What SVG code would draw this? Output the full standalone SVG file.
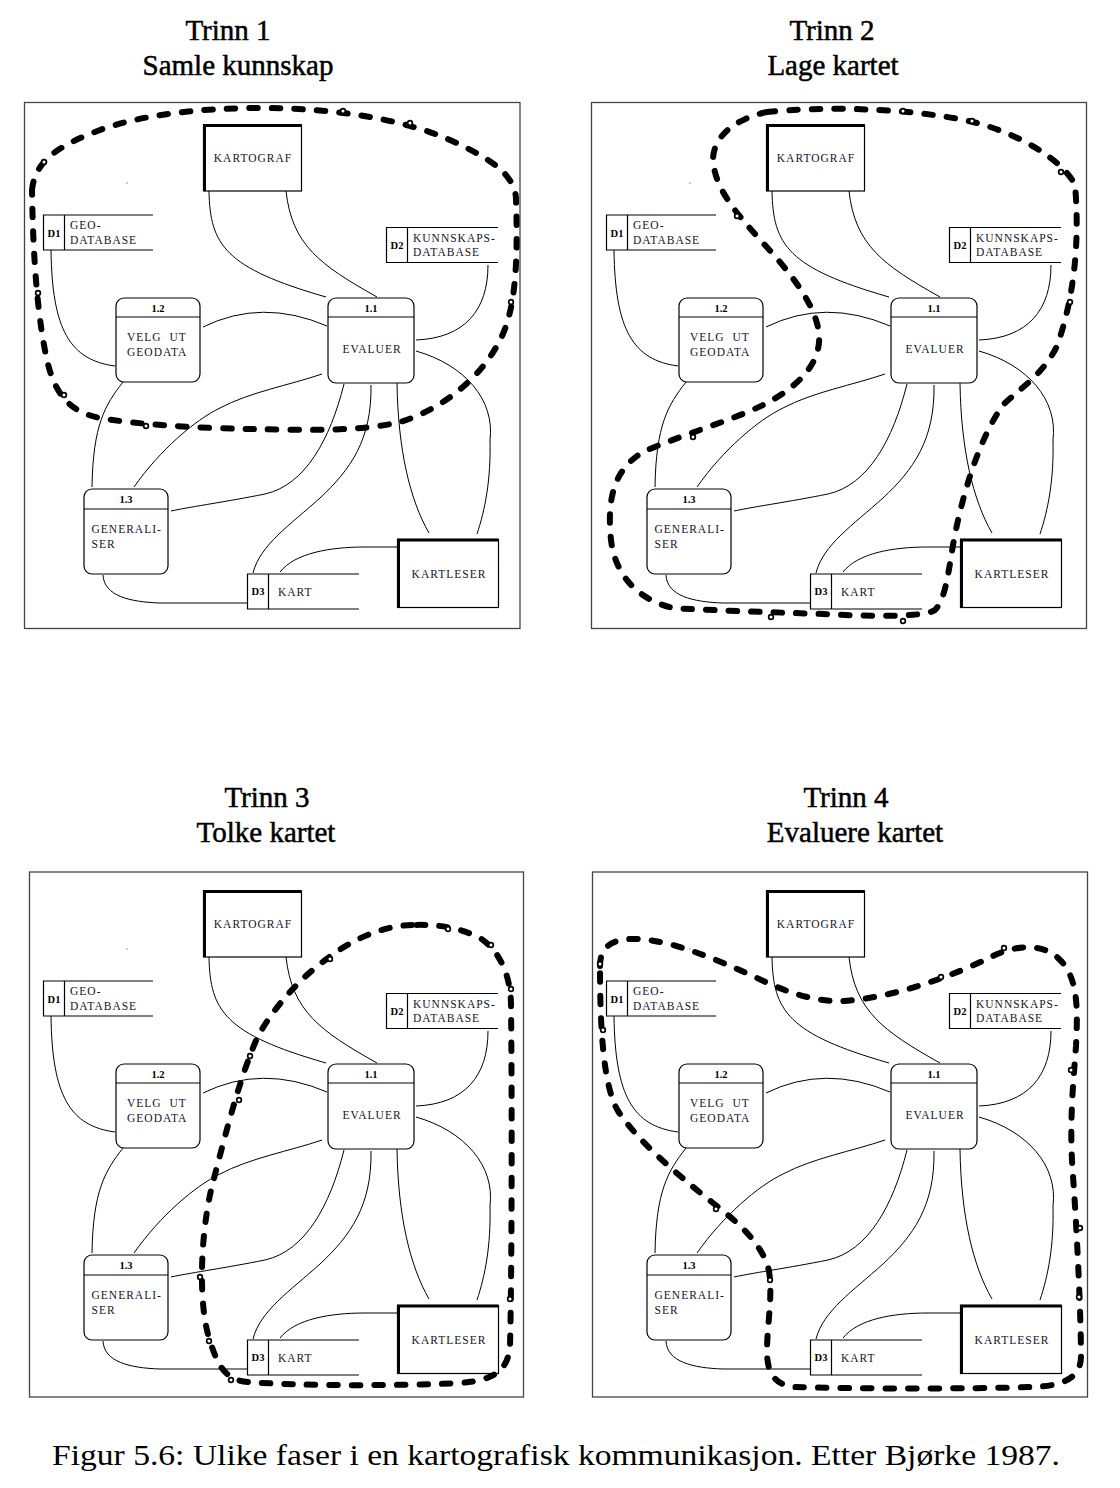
<svg xmlns="http://www.w3.org/2000/svg" width="1120" height="1488" viewBox="0 0 1120 1488">
<style>
.frame{fill:none;stroke:#444;stroke-width:1.3}
.ln{fill:none;stroke:#000;stroke-width:1}
.box{fill:#fff;stroke:#000;stroke-width:1.2}
.thick{fill:none;stroke:#000;stroke-width:3}
.store{fill:none;stroke:#000;stroke-width:1.2}
.sep{stroke:#000;stroke-width:1.2}
text{font-family:'Liberation Serif','Times New Roman',Times,serif}
.t{font-size:11.5px;letter-spacing:1px;fill:#141428}
.tb{font-size:10.5px;font-weight:bold;fill:#000;text-anchor:middle}
.mid{text-anchor:middle}
.bnd{fill:none;stroke:#000;stroke-width:6;stroke-dasharray:8.5 14;stroke-linecap:round}
.hb{fill:#000}
.hw{fill:#fff}
.title{font-size:29px;text-anchor:middle;fill:#000;stroke:#000;stroke-width:0.5}
.cap{font-size:29px;fill:#000}
.speck{fill:#888}
</style>

<g id="titles" font-family="Liberation Serif, Times New Roman, serif">
<text class="title" x="228" y="40">Trinn 1</text>
<text class="title" x="238" y="75">Samle kunnskap</text>
<text class="title" x="832" y="40">Trinn 2</text>
<text class="title" x="833" y="75">Lage kartet</text>
<text class="title" x="267" y="807">Trinn 3</text>
<text class="title" x="266" y="842">Tolke kartet</text>
<text class="title" x="846" y="807">Trinn 4</text>
<text class="title" x="855" y="842">Evaluere kartet</text>
</g>

<g id="frames">
<rect class="frame" x="24.5" y="102.5" width="495.5" height="526"/>
<rect class="frame" x="591.5" y="102.5" width="495" height="526"/>
<rect class="frame" x="29.5" y="872" width="494" height="525"/>
<rect class="frame" x="592.5" y="872" width="495" height="525"/>
</g>

<!-- PANEL 1 -->
<g id="panel1">
<g id="p1-connectors">
<path class="ln" d="M209,191 C210,245 225,268 326,297"/>
<path class="ln" d="M286,191 C292,245 320,265 377,297"/>
<path class="ln" d="M51,250 C52,330 70,360 115,366"/>
<path class="ln" d="M203,327 Q262,298 327,326"/>
<path class="ln" d="M488,265 C488,310 465,338 416,340"/>
<path class="ln" d="M416,351 C465,365 495,400 490,440 C491,480 485,510 477,534"/>
<path class="ln" d="M397,383 C398,450 410,500 429,533"/>
<path class="ln" d="M371,385 C372,440 350,470 320,498 C290,525 260,545 253,573"/>
<path class="ln" d="M344,384 C330,440 305,485 265,494 C225,502 195,506 171,511"/>
<path class="ln" d="M322,374 C290,385 250,392 220,408 C195,420 160,450 134,487"/>
<path class="ln" d="M123,382 C105,405 93,425 92,487"/>
<path class="ln" d="M103,575 C104,596 130,602 160,603 L247,603"/>
<path class="ln" d="M397,547 L365,547 C330,547 295,553 280,572"/>
</g>
<circle class="speck" cx="127" cy="183" r="0.8"/>
<g id="p1-kartograf"><rect class="box" x="203.5" y="125" width="98" height="66"/><path class="thick" d="M204.5,191 V125.5 H301.5"/><text class="t mid" x="253" y="162">KARTOGRAF</text></g>
<g id="p1-d1"><path class="store" d="M153,215 H43.5 V250 H153 M64.5,215 V250"/><text class="tb" x="54" y="237">D1</text><text class="t" x="70" y="229">GEO-</text><text class="t" x="70" y="244">DATABASE</text></g>
<g id="p1-d2"><path class="store" d="M498,227.5 H386.5 V262.5 H498 M407.5,227.5 V262.5"/><text class="tb" x="397" y="249">D2</text><text class="t" x="413" y="242">KUNNSKAPS-</text><text class="t" x="413" y="256">DATABASE</text></g>
<g id="p1-p12"><rect class="box" x="116" y="298" width="84" height="84" rx="8"/><line class="sep" x1="116" y1="317" x2="200" y2="317"/><text class="tb" x="158" y="312">1.2</text><text class="t" x="127" y="341" word-spacing="4">VELG UT</text><text class="t" x="127" y="356">GEODATA</text></g>
<g id="p1-p11"><rect class="box" x="328" y="298" width="86" height="85" rx="8"/><line class="sep" x1="328" y1="317" x2="414" y2="317"/><text class="tb" x="371" y="312">1.1</text><text class="t mid" x="372" y="353">EVALUER</text></g>
<g id="p1-p13"><rect class="box" x="84" y="489" width="84" height="85" rx="8"/><line class="sep" x1="84" y1="509" x2="168" y2="509"/><text class="tb" x="126" y="503">1.3</text><text class="t" x="91.5" y="533">GENERALI-</text><text class="t" x="91.5" y="548">SER</text></g>
<g id="p1-d3"><path class="store" d="M359,574 H247.5 V609 H359 M268.5,574 V609"/><text class="tb" x="258" y="595">D3</text><text class="t" x="278" y="596">KART</text></g>
<g id="p1-kartleser"><rect class="box" x="397.5" y="539.5" width="101" height="68"/><path class="thick" d="M398.5,607.5 V540 H498.5"/><text class="t mid" x="449" y="578">KARTLESER</text></g>
<path id="p1-boundary" class="bnd" d="M32,190 C35,160 60,145 100,130 C140,115 200,108 260,108 C330,108 400,118 450,140 C490,158 516,175 516,200 C518,260 516,310 500,340 C480,380 440,410 400,422 C360,432 300,430 250,429 C200,428 140,425 100,418 C70,412 55,395 47,360 C38,320 33,260 32,190 Z"/>
</g>

<!-- PANEL 2 -->
<g id="panel2" transform="translate(563,0)">
<g id="p2-connectors">
<path class="ln" d="M209,191 C210,245 225,268 326,297"/>
<path class="ln" d="M286,191 C292,245 320,265 377,297"/>
<path class="ln" d="M51,250 C52,330 70,360 115,366"/>
<path class="ln" d="M203,327 Q262,298 327,326"/>
<path class="ln" d="M488,265 C488,310 465,338 416,340"/>
<path class="ln" d="M416,351 C465,365 495,400 490,440 C491,480 485,510 477,534"/>
<path class="ln" d="M397,383 C398,450 410,500 429,533"/>
<path class="ln" d="M371,385 C372,440 350,470 320,498 C290,525 260,545 253,573"/>
<path class="ln" d="M344,384 C330,440 305,485 265,494 C225,502 195,506 171,511"/>
<path class="ln" d="M322,374 C290,385 250,392 220,408 C195,420 160,450 134,487"/>
<path class="ln" d="M123,382 C105,405 93,425 92,487"/>
<path class="ln" d="M103,575 C104,596 130,602 160,603 L247,603"/>
<path class="ln" d="M397,547 L365,547 C330,547 295,553 280,572"/>
</g>
<circle class="speck" cx="127" cy="183" r="0.8"/>
<g id="p2-kartograf"><rect class="box" x="203.5" y="125" width="98" height="66"/><path class="thick" d="M204.5,191 V125.5 H301.5"/><text class="t mid" x="253" y="162">KARTOGRAF</text></g>
<g id="p2-d1"><path class="store" d="M153,215 H43.5 V250 H153 M64.5,215 V250"/><text class="tb" x="54" y="237">D1</text><text class="t" x="70" y="229">GEO-</text><text class="t" x="70" y="244">DATABASE</text></g>
<g id="p2-d2"><path class="store" d="M498,227.5 H386.5 V262.5 H498 M407.5,227.5 V262.5"/><text class="tb" x="397" y="249">D2</text><text class="t" x="413" y="242">KUNNSKAPS-</text><text class="t" x="413" y="256">DATABASE</text></g>
<g id="p2-p12"><rect class="box" x="116" y="298" width="84" height="84" rx="8"/><line class="sep" x1="116" y1="317" x2="200" y2="317"/><text class="tb" x="158" y="312">1.2</text><text class="t" x="127" y="341" word-spacing="4">VELG UT</text><text class="t" x="127" y="356">GEODATA</text></g>
<g id="p2-p11"><rect class="box" x="328" y="298" width="86" height="85" rx="8"/><line class="sep" x1="328" y1="317" x2="414" y2="317"/><text class="tb" x="371" y="312">1.1</text><text class="t mid" x="372" y="353">EVALUER</text></g>
<g id="p2-p13"><rect class="box" x="84" y="489" width="84" height="85" rx="8"/><line class="sep" x1="84" y1="509" x2="168" y2="509"/><text class="tb" x="126" y="503">1.3</text><text class="t" x="91.5" y="533">GENERALI-</text><text class="t" x="91.5" y="548">SER</text></g>
<g id="p2-d3"><path class="store" d="M359,574 H247.5 V609 H359 M268.5,574 V609"/><text class="tb" x="258" y="595">D3</text><text class="t" x="278" y="596">KART</text></g>
<g id="p2-kartleser"><rect class="box" x="397.5" y="539.5" width="101" height="68"/><path class="thick" d="M398.5,607.5 V540 H498.5"/><text class="t mid" x="449" y="578">KARTLESER</text></g>
<path id="p2-boundary" class="bnd" d="M204,112 C260,106 350,108 410,122 C455,133 500,160 512,185 C516,230 514,290 494,346 C480,375 455,390 440,405 C415,440 398,500 390,545 C385,575 382,600 372,610 C360,618 300,616 260,614 C200,612 140,610 110,608 C75,600 52,575 48,540 C44,500 50,470 80,452 C110,438 170,420 200,405 C240,385 258,360 256,335 C254,305 225,270 200,243 C175,215 152,190 150,160 C150,135 175,118 204,112 Z"/>
</g>

<!-- PANEL 3 -->
<g id="panel3" transform="translate(0,766)">
<g id="p3-connectors">
<path class="ln" d="M209,191 C210,245 225,268 326,297"/>
<path class="ln" d="M286,191 C292,245 320,265 377,297"/>
<path class="ln" d="M51,250 C52,330 70,360 115,366"/>
<path class="ln" d="M203,327 Q262,298 327,326"/>
<path class="ln" d="M488,265 C488,310 465,338 416,340"/>
<path class="ln" d="M416,351 C465,365 495,400 490,440 C491,480 485,510 477,534"/>
<path class="ln" d="M397,383 C398,450 410,500 429,533"/>
<path class="ln" d="M371,385 C372,440 350,470 320,498 C290,525 260,545 253,573"/>
<path class="ln" d="M344,384 C330,440 305,485 265,494 C225,502 195,506 171,511"/>
<path class="ln" d="M322,374 C290,385 250,392 220,408 C195,420 160,450 134,487"/>
<path class="ln" d="M123,382 C105,405 93,425 92,487"/>
<path class="ln" d="M103,575 C104,596 130,602 160,603 L247,603"/>
<path class="ln" d="M397,547 L365,547 C330,547 295,553 280,572"/>
</g>
<circle class="speck" cx="127" cy="183" r="0.8"/>
<g id="p3-kartograf"><rect class="box" x="203.5" y="125" width="98" height="66"/><path class="thick" d="M204.5,191 V125.5 H301.5"/><text class="t mid" x="253" y="162">KARTOGRAF</text></g>
<g id="p3-d1"><path class="store" d="M153,215 H43.5 V250 H153 M64.5,215 V250"/><text class="tb" x="54" y="237">D1</text><text class="t" x="70" y="229">GEO-</text><text class="t" x="70" y="244">DATABASE</text></g>
<g id="p3-d2"><path class="store" d="M498,227.5 H386.5 V262.5 H498 M407.5,227.5 V262.5"/><text class="tb" x="397" y="249">D2</text><text class="t" x="413" y="242">KUNNSKAPS-</text><text class="t" x="413" y="256">DATABASE</text></g>
<g id="p3-p12"><rect class="box" x="116" y="298" width="84" height="84" rx="8"/><line class="sep" x1="116" y1="317" x2="200" y2="317"/><text class="tb" x="158" y="312">1.2</text><text class="t" x="127" y="341" word-spacing="4">VELG UT</text><text class="t" x="127" y="356">GEODATA</text></g>
<g id="p3-p11"><rect class="box" x="328" y="298" width="86" height="85" rx="8"/><line class="sep" x1="328" y1="317" x2="414" y2="317"/><text class="tb" x="371" y="312">1.1</text><text class="t mid" x="372" y="353">EVALUER</text></g>
<g id="p3-p13"><rect class="box" x="84" y="489" width="84" height="85" rx="8"/><line class="sep" x1="84" y1="509" x2="168" y2="509"/><text class="tb" x="126" y="503">1.3</text><text class="t" x="91.5" y="533">GENERALI-</text><text class="t" x="91.5" y="548">SER</text></g>
<g id="p3-d3"><path class="store" d="M359,574 H247.5 V609 H359 M268.5,574 V609"/><text class="tb" x="258" y="595">D3</text><text class="t" x="278" y="596">KART</text></g>
<g id="p3-kartleser"><rect class="box" x="397.5" y="539.5" width="101" height="68"/><path class="thick" d="M398.5,607.5 V540 H498.5"/><text class="t mid" x="449" y="578">KARTLESER</text></g>
<path id="p3-boundary" class="bnd" d="M412,159 C380,160 350,175 328,192 C300,212 275,240 258,270 C240,310 225,370 212,420 C200,470 198,540 210,575 C218,600 225,614 248,616 C300,620 400,620 460,617 C500,614 508,600 510,580 C512,500 512,320 511,240 C511,210 500,185 480,172 C460,162 440,158 412,159 Z"/>
</g>

<!-- PANEL 4 -->
<g id="panel4" transform="translate(563,766)">
<g id="p4-connectors">
<path class="ln" d="M209,191 C210,245 225,268 326,297"/>
<path class="ln" d="M286,191 C292,245 320,265 377,297"/>
<path class="ln" d="M51,250 C52,330 70,360 115,366"/>
<path class="ln" d="M203,327 Q262,298 327,326"/>
<path class="ln" d="M488,265 C488,310 465,338 416,340"/>
<path class="ln" d="M416,351 C465,365 495,400 490,440 C491,480 485,510 477,534"/>
<path class="ln" d="M397,383 C398,450 410,500 429,533"/>
<path class="ln" d="M371,385 C372,440 350,470 320,498 C290,525 260,545 253,573"/>
<path class="ln" d="M344,384 C330,440 305,485 265,494 C225,502 195,506 171,511"/>
<path class="ln" d="M322,374 C290,385 250,392 220,408 C195,420 160,450 134,487"/>
<path class="ln" d="M123,382 C105,405 93,425 92,487"/>
<path class="ln" d="M103,575 C104,596 130,602 160,603 L247,603"/>
<path class="ln" d="M397,547 L365,547 C330,547 295,553 280,572"/>
</g>
<circle class="speck" cx="127" cy="183" r="0.8"/>
<g id="p4-kartograf"><rect class="box" x="203.5" y="125" width="98" height="66"/><path class="thick" d="M204.5,191 V125.5 H301.5"/><text class="t mid" x="253" y="162">KARTOGRAF</text></g>
<g id="p4-d1"><path class="store" d="M153,215 H43.5 V250 H153 M64.5,215 V250"/><text class="tb" x="54" y="237">D1</text><text class="t" x="70" y="229">GEO-</text><text class="t" x="70" y="244">DATABASE</text></g>
<g id="p4-d2"><path class="store" d="M498,227.5 H386.5 V262.5 H498 M407.5,227.5 V262.5"/><text class="tb" x="397" y="249">D2</text><text class="t" x="413" y="242">KUNNSKAPS-</text><text class="t" x="413" y="256">DATABASE</text></g>
<g id="p4-p12"><rect class="box" x="116" y="298" width="84" height="84" rx="8"/><line class="sep" x1="116" y1="317" x2="200" y2="317"/><text class="tb" x="158" y="312">1.2</text><text class="t" x="127" y="341" word-spacing="4">VELG UT</text><text class="t" x="127" y="356">GEODATA</text></g>
<g id="p4-p11"><rect class="box" x="328" y="298" width="86" height="85" rx="8"/><line class="sep" x1="328" y1="317" x2="414" y2="317"/><text class="tb" x="371" y="312">1.1</text><text class="t mid" x="372" y="353">EVALUER</text></g>
<g id="p4-p13"><rect class="box" x="84" y="489" width="84" height="85" rx="8"/><line class="sep" x1="84" y1="509" x2="168" y2="509"/><text class="tb" x="126" y="503">1.3</text><text class="t" x="91.5" y="533">GENERALI-</text><text class="t" x="91.5" y="548">SER</text></g>
<g id="p4-d3"><path class="store" d="M359,574 H247.5 V609 H359 M268.5,574 V609"/><text class="tb" x="258" y="595">D3</text><text class="t" x="278" y="596">KART</text></g>
<g id="p4-kartleser"><rect class="box" x="397.5" y="539.5" width="101" height="68"/><path class="thick" d="M398.5,607.5 V540 H498.5"/><text class="t mid" x="449" y="578">KARTLESER</text></g>
<path id="p4-boundary" class="bnd" d="M37,200 C37,180 50,172 75,173 C110,175 150,192 190,210 C220,225 250,236 280,235 C330,232 390,210 430,190 C455,178 480,178 495,192 C515,210 515,240 513,280 C510,320 506,360 510,410 C515,480 518,560 518,590 C518,612 500,620 470,621 C400,623 300,623 230,621 C210,618 204,605 204,585 C204,560 210,530 206,505 C200,480 180,460 150,437 C110,405 75,375 55,345 C40,320 37,260 37,200 Z"/>
</g>

<g id="holes">
<g class="hb">
<circle cx="44" cy="162" r="3.2"/><circle cx="38" cy="293" r="3.2"/><circle cx="64" cy="395" r="3.2"/><circle cx="146" cy="426" r="3.2"/><circle cx="343" cy="111" r="3.2"/><circle cx="410" cy="123" r="3.2"/><circle cx="511" cy="302" r="3.2"/>
<circle cx="737" cy="216" r="3.2"/><circle cx="693" cy="437" r="3.2"/><circle cx="771" cy="617" r="3.2"/><circle cx="903" cy="621" r="3.2"/><circle cx="903" cy="111" r="3.2"/><circle cx="972" cy="121" r="3.2"/><circle cx="1061" cy="172" r="3.2"/><circle cx="1070" cy="302" r="3.2"/>
<circle cx="448" cy="929" r="3.2"/><circle cx="491" cy="945" r="3.2"/><circle cx="511" cy="989" r="3.2"/><circle cx="330" cy="959" r="3.2"/><circle cx="250" cy="1056" r="3.2"/><circle cx="239" cy="1100" r="3.2"/><circle cx="200" cy="1277" r="3.2"/><circle cx="209" cy="1341" r="3.2"/><circle cx="231" cy="1380" r="3.2"/><circle cx="510" cy="1299" r="3.2"/>
<circle cx="600" cy="964" r="3.2"/><circle cx="603" cy="1030" r="3.2"/><circle cx="1004" cy="948" r="3.2"/><circle cx="941" cy="977" r="3.2"/><circle cx="1071" cy="1070" r="3.2"/><circle cx="1080" cy="1228" r="3.2"/><circle cx="1079" cy="1297" r="3.2"/><circle cx="716" cy="1209" r="3.2"/><circle cx="770" cy="1280" r="3.2"/>
</g>
<g class="hw">
<circle cx="44" cy="162" r="1.5"/><circle cx="38" cy="293" r="1.5"/><circle cx="64" cy="395" r="1.5"/><circle cx="146" cy="426" r="1.5"/><circle cx="343" cy="111" r="1.5"/><circle cx="410" cy="123" r="1.5"/><circle cx="511" cy="302" r="1.5"/>
<circle cx="737" cy="216" r="1.5"/><circle cx="693" cy="437" r="1.5"/><circle cx="771" cy="617" r="1.5"/><circle cx="903" cy="621" r="1.5"/><circle cx="903" cy="111" r="1.5"/><circle cx="972" cy="121" r="1.5"/><circle cx="1061" cy="172" r="1.5"/><circle cx="1070" cy="302" r="1.5"/>
<circle cx="448" cy="929" r="1.5"/><circle cx="491" cy="945" r="1.5"/><circle cx="511" cy="989" r="1.5"/><circle cx="330" cy="959" r="1.5"/><circle cx="250" cy="1056" r="1.5"/><circle cx="239" cy="1100" r="1.5"/><circle cx="200" cy="1277" r="1.5"/><circle cx="209" cy="1341" r="1.5"/><circle cx="231" cy="1380" r="1.5"/><circle cx="510" cy="1299" r="1.5"/>
<circle cx="600" cy="964" r="1.5"/><circle cx="603" cy="1030" r="1.5"/><circle cx="1004" cy="948" r="1.5"/><circle cx="941" cy="977" r="1.5"/><circle cx="1071" cy="1070" r="1.5"/><circle cx="1080" cy="1228" r="1.5"/><circle cx="1079" cy="1297" r="1.5"/><circle cx="716" cy="1209" r="1.5"/><circle cx="770" cy="1280" r="1.5"/>
</g>
</g>

<text class="cap" x="52" y="1465" textLength="1008" lengthAdjust="spacingAndGlyphs">Figur 5.6: Ulike faser i en kartografisk kommunikasjon. Etter Bjørke 1987.</text>
</svg>
